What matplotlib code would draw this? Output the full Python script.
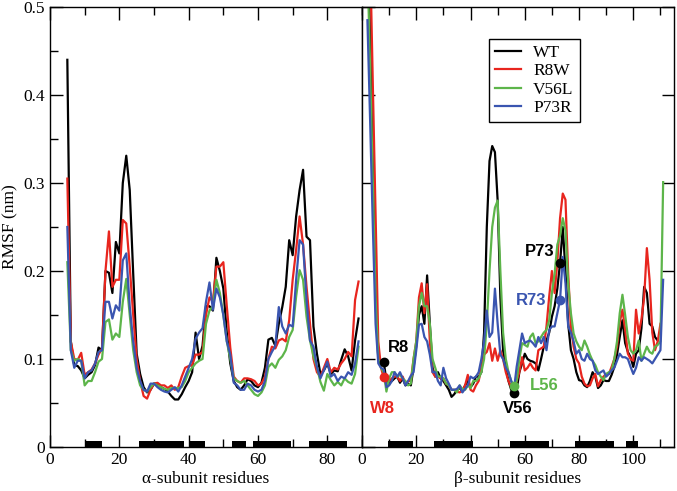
import numpy as np
import matplotlib

matplotlib.use("Agg")
import matplotlib.pyplot as plt
from matplotlib.ticker import MultipleLocator

plt.rcParams["font.family"] = ["Liberation Serif", "DejaVu Serif"]
plt.rcParams["font.size"] = 12.5

# alpha subunit, residues 5..89
alpha_res = np.arange(5, 90)
alpha_wt = [0.44, 0.12, 0.093, 0.092, 0.087, 0.078, 0.082, 0.085, 0.093, 0.113,
            0.11, 0.20, 0.198, 0.175, 0.233, 0.22, 0.30, 0.331, 0.292, 0.197,
            0.106, 0.083, 0.068, 0.062, 0.065, 0.072, 0.072, 0.068, 0.066, 0.063,
            0.058, 0.054, 0.054, 0.06, 0.068, 0.075, 0.085, 0.13, 0.1, 0.115,
            0.16, 0.16, 0.155, 0.215, 0.2, 0.18, 0.13, 0.095, 0.075, 0.068,
            0.065, 0.07, 0.077, 0.075, 0.07, 0.068, 0.073, 0.09, 0.122, 0.124,
            0.115, 0.14, 0.159, 0.182, 0.235, 0.218, 0.262, 0.292, 0.315, 0.239,
            0.235, 0.137, 0.106, 0.083, 0.087, 0.095, 0.083, 0.087, 0.086, 0.099,
            0.111, 0.103, 0.087, 0.121, 0.146]
alpha_r8w = [0.305, 0.12, 0.1, 0.099, 0.107, 0.082, 0.085, 0.088, 0.095, 0.105,
             0.112, 0.2, 0.245, 0.182, 0.19, 0.19, 0.258, 0.254, 0.205, 0.15,
             0.1, 0.075, 0.058, 0.055, 0.065, 0.072, 0.073, 0.07, 0.07, 0.067,
             0.07, 0.065, 0.068, 0.08, 0.09, 0.092, 0.093, 0.105, 0.105, 0.108,
             0.15, 0.17, 0.165, 0.205, 0.205, 0.21, 0.16, 0.113, 0.08, 0.075,
             0.073, 0.078, 0.078, 0.077, 0.075, 0.07, 0.072, 0.08, 0.1, 0.114,
             0.112, 0.121, 0.123, 0.12, 0.144, 0.19, 0.224, 0.262, 0.23, 0.182,
             0.14, 0.1, 0.085, 0.08, 0.09, 0.1, 0.085, 0.09, 0.088, 0.095,
             0.1, 0.108, 0.103, 0.167, 0.188]
alpha_v56l = [0.21, 0.11, 0.098, 0.1, 0.098, 0.07, 0.075, 0.075, 0.085, 0.097,
              0.1, 0.142, 0.145, 0.122, 0.129, 0.125, 0.165, 0.191, 0.15, 0.11,
              0.085, 0.07, 0.065, 0.063, 0.068, 0.072, 0.07, 0.068, 0.066, 0.065,
              0.067, 0.067, 0.067, 0.068, 0.075, 0.085, 0.09, 0.095, 0.098, 0.1,
              0.14, 0.155, 0.16, 0.19, 0.175, 0.15, 0.12, 0.1, 0.078, 0.075,
              0.073, 0.075, 0.07, 0.065, 0.06, 0.058, 0.062, 0.07, 0.091, 0.095,
              0.09, 0.099, 0.103, 0.11, 0.125, 0.133, 0.171, 0.201, 0.19, 0.148,
              0.121, 0.103, 0.091, 0.074, 0.064, 0.083, 0.076, 0.07, 0.074, 0.07,
              0.078, 0.074, 0.072, 0.083, 0.114]
alpha_p73r = [0.25, 0.11, 0.09, 0.098, 0.098, 0.078, 0.085, 0.087, 0.095, 0.108,
              0.11, 0.165, 0.165, 0.146, 0.161, 0.155, 0.212, 0.22, 0.16, 0.12,
              0.09, 0.075, 0.065, 0.063, 0.072, 0.072, 0.068, 0.065, 0.063, 0.062,
              0.065, 0.068, 0.063, 0.07, 0.08, 0.09, 0.1, 0.123, 0.13, 0.135,
              0.165, 0.187, 0.156, 0.18, 0.17, 0.15, 0.12, 0.105, 0.073, 0.07,
              0.065, 0.065, 0.072, 0.07, 0.065, 0.063, 0.065, 0.075, 0.1, 0.108,
              0.115, 0.159, 0.137, 0.129, 0.139, 0.137, 0.19, 0.235, 0.23, 0.167,
              0.121, 0.114, 0.091, 0.078, 0.087, 0.097, 0.08, 0.083, 0.075, 0.08,
              0.078, 0.085, 0.082, 0.095, 0.12]

# beta subunit, residues 2..111
beta_res = np.arange(2, 112)
nan = np.nan
beta_wt = [0.6, 0.46, 0.32, 0.18, 0.1, 0.098, 0.097, 0.075, 0.072, 0.075,
           0.078, 0.08, 0.073, 0.078, 0.07, 0.072, 0.07, 0.09, 0.115, 0.15,
           0.16, 0.14, 0.195, 0.14, 0.09, 0.08, 0.085, 0.078, 0.075, 0.07,
           0.065, 0.057, 0.06, 0.065, 0.067, 0.063, 0.07, 0.075, 0.068, 0.072,
           0.08, 0.08, 0.085, 0.13, 0.25, 0.325, 0.342, 0.335, 0.28, 0.17,
           0.11, 0.09, 0.075, 0.065, 0.061, 0.065, 0.085, 0.095, 0.106, 0.1,
           0.098, 0.097, 0.095, 0.087, 0.1, 0.114, 0.121, 0.13, 0.148, 0.16,
           0.18, 0.209, 0.25, 0.2, 0.14, 0.11, 0.1, 0.085, 0.076, 0.075,
           0.07, 0.068, 0.075, 0.085, 0.08, 0.067, 0.07, 0.076, 0.075, 0.075,
           0.082, 0.091, 0.105, 0.125, 0.144, 0.118, 0.108, 0.102, 0.091, 0.106,
           0.11, 0.135, 0.182, 0.175, 0.14, 0.137, 0.125, 0.121, nan, nan]
beta_r8w = [0.7, 0.56, 0.41, 0.265, 0.12, 0.09, 0.079, 0.07, 0.075, 0.078,
            0.08, 0.08, 0.075, 0.08, 0.072, 0.075, 0.075, 0.1, 0.12, 0.17,
            0.186, 0.152, 0.185, 0.12, 0.085, 0.08, 0.08, 0.078, 0.078, 0.072,
            0.07, 0.065, 0.065, 0.063, 0.062, 0.064, 0.07, 0.082, 0.065, 0.063,
            0.07, 0.075, 0.09, 0.105, 0.108, 0.118, 0.098, 0.112, 0.098, 0.11,
            0.1, 0.085, 0.075, 0.068, 0.065, 0.075, 0.085, 0.102, 0.087, 0.09,
            0.095, 0.09, 0.087, 0.11, 0.112, 0.114, 0.137, 0.171, 0.2, 0.175,
            0.21, 0.26, 0.288, 0.281, 0.197, 0.137, 0.114, 0.1, 0.095, 0.08,
            0.072, 0.069, 0.07, 0.078, 0.083, 0.069, 0.076, 0.08, 0.083, 0.083,
            0.091, 0.1, 0.114, 0.142, 0.156, 0.133, 0.106, 0.1, 0.098, 0.156,
            0.129, 0.145, 0.17, 0.226, 0.19, 0.13, 0.11, 0.12, 0.14, nan]
beta_v56l = [0.55, 0.43, 0.3, 0.17, 0.1, 0.09, 0.085, 0.063, 0.078, 0.085,
             0.085, 0.08, 0.082, 0.078, 0.075, 0.07, 0.072, 0.1, 0.12, 0.16,
             0.175, 0.16, 0.16, 0.14, 0.1, 0.09, 0.08, 0.08, 0.078, 0.072,
             0.07, 0.065, 0.065, 0.062, 0.07, 0.066, 0.065, 0.07, 0.067, 0.075,
             0.075, 0.078, 0.085, 0.1, 0.14, 0.2, 0.25, 0.272, 0.28, 0.2,
             0.13, 0.1, 0.085, 0.075, 0.0697, 0.075, 0.1, 0.118, 0.116, 0.114,
             0.125, 0.129, 0.118, 0.12, 0.125, 0.13, 0.133, 0.144, 0.175, 0.197,
             0.23, 0.24, 0.26, 0.246, 0.186, 0.152, 0.129, 0.12, 0.114, 0.11,
             0.121, 0.114, 0.105, 0.098, 0.093, 0.085, 0.08, 0.076, 0.083, 0.085,
             0.087, 0.1, 0.12, 0.152, 0.173, 0.15, 0.125, 0.11, 0.106, 0.11,
             0.121, 0.098, 0.106, 0.114, 0.108, 0.106, 0.114, 0.116, 0.12, 0.301]
beta_p73r = [0.485, 0.37, 0.25, 0.14, 0.095, 0.09, 0.088, 0.068, 0.07, 0.075,
             0.085, 0.08, 0.085, 0.078, 0.07, 0.075, 0.081, 0.085, 0.11, 0.139,
             0.14, 0.125, 0.12, 0.105, 0.085, 0.085, 0.075, 0.07, 0.09, 0.078,
             0.072, 0.065, 0.065, 0.066, 0.07, 0.062, 0.066, 0.07, 0.08, 0.078,
             0.08, 0.085, 0.1, 0.12, 0.155, 0.125, 0.13, 0.18, 0.14, 0.105,
             0.1, 0.09, 0.085, 0.075, 0.065, 0.091, 0.11, 0.129, 0.118, 0.12,
             0.121, 0.118, 0.114, 0.125, 0.118, 0.125, 0.11, 0.133, 0.137, 0.137,
             0.152, 0.167, 0.216, 0.186, 0.137, 0.13, 0.12, 0.106, 0.11, 0.1,
             0.098, 0.106, 0.1, 0.098, 0.087, 0.083, 0.085, 0.087, 0.08, 0.083,
             0.087, 0.09, 0.098, 0.106, 0.102, 0.102, 0.1, 0.091, 0.083, 0.09,
             0.102, 0.098, 0.102, 0.1, 0.098, 0.095, 0.1, 0.105, 0.11, 0.19]

# secondary structure bars (start, end residue)
alpha_ss_start = [10.5, 25.7, 40.5, 52.6, 58.5, 74.6]
alpha_ss_end = [14.9, 38.7, 44.6, 56.6, 69.5, 85.6]
beta_ss_start = [9.4, 26.4, 54.4, 78.4, 97.2]
beta_ss_end = [18.7, 40.8, 68.9, 92.8, 101.6]

labels = ["WT", "R8W", "V56L", "P73R"]
colors = ["black", "#e8251e", "#5db54a", "#3a55b0"]

fig = plt.figure(figsize=(6.77, 4.91), dpi=100)
ax1 = fig.add_axes([50 / 677, 1 - 447 / 491, 312 / 677, 440 / 491])
ax2 = fig.add_axes([362 / 677, 1 - 447 / 491, 312 / 677, 440 / 491])

for ys, c, lab in zip([alpha_wt, alpha_r8w, alpha_v56l, alpha_p73r], colors, labels):
    ax1.plot(alpha_res, ys, color=c, lw=1.6, label=lab)
for ys, c, lab in zip([beta_wt, beta_r8w, beta_v56l, beta_p73r], colors, labels):
    ax2.plot(beta_res, ys, color=c, lw=1.6, label=lab)

for ax, starts, ends in [(ax1, alpha_ss_start, alpha_ss_end), (ax2, beta_ss_start, beta_ss_end)]:
    ax.broken_barh([(s, e - s) for s, e in zip(starts, ends)], (0.0, 0.0065),
                   facecolors="black", zorder=3)

# marked mutation sites
mark_font = dict(family=["Liberation Sans", "DejaVu Sans"], weight="bold", fontsize=12)
sites = [
    (8, beta_wt, "black", "R8", (11, 10)),
    (8, beta_r8w, colors[1], "W8", (-1, -22)),
    (56, beta_wt, "black", "V56", (3, -11)),
    (56, beta_v56l, colors[2], "L56", (22, 0)),
    (73, beta_wt, "black", "P73", (-15, 8)),
    (73, beta_p73r, colors[3], "R73", (-21, 0)),
]
for res, ys, c, txt, off in sites:
    yv = ys[list(beta_res).index(res)]
    ax2.plot(res, yv, "o", color=c, ms=6, zorder=5)
    ax2.annotate(txt, (res, yv), xytext=off, textcoords="offset points",
                 ha="center", va="center", color=c, **mark_font)

ax1.set_xlim(0, 90)
ax2.set_xlim(0, 115)
for ax in (ax1, ax2):
    ax.set_ylim(0, 0.5)
    ax.xaxis.set_major_locator(MultipleLocator(20))
    ax.xaxis.set_minor_locator(MultipleLocator(10))
    ax.yaxis.set_major_locator(MultipleLocator(0.1))
    ax.tick_params(which="major", direction="in", length=9, width=1, top=True)
    ax.tick_params(which="minor", direction="in", length=5.5, width=1, top=True)
    for sp in ax.spines.values():
        sp.set_linewidth(1.0)

ax1.yaxis.set_minor_locator(MultipleLocator(0.05))
ax1.tick_params(axis="y", which="both", right=False)
ax1.set_yticks([0, 0.1, 0.2, 0.3, 0.4, 0.5])
ax1.set_yticklabels(["0", "0.1", "0.2", "0.3", "0.4", "0.5"])
ax2.tick_params(axis="y", which="both", left=True, right=True, labelleft=False)

ax1.set_ylabel("RMSF (nm)")
ax1.set_xlabel("α-subunit residues", labelpad=2)
ax2.set_xlabel("β-subunit residues", labelpad=2)

leg = ax2.legend(loc="upper left", bbox_to_anchor=(489 / 677, 1 - 39 / 491),
                 bbox_transform=fig.transFigure, fontsize=12.5, handlelength=1.5,
                 handletextpad=0.7, labelspacing=0.12, borderpad=0.35,
                 borderaxespad=0, fancybox=False, framealpha=1)
leg.get_frame().set_edgecolor("black")
leg.get_frame().set_linewidth(1.0)

fig.savefig("out.png", dpi=100)
